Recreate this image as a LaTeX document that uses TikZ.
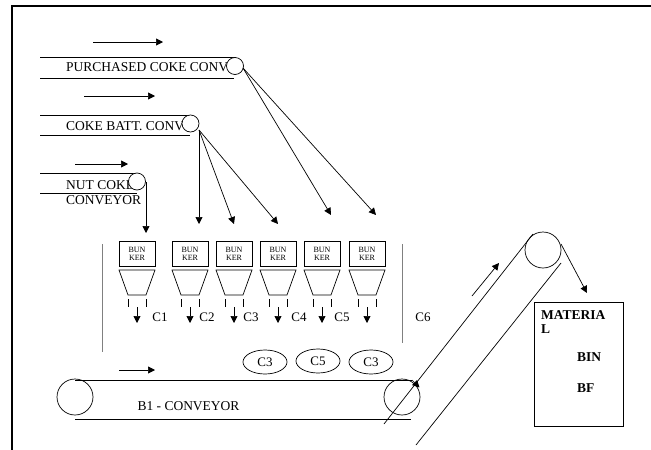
\documentclass[tikz,border=0pt]{standalone}
\usepackage{fontspec}
\setmainfont{Liberation Serif}
\usetikzlibrary{positioning,arrows.meta,calc,shapes.geometric}

\tikzset{
  flow/.style={-{Triangle[length=7pt,width=7pt]}, line width=0.7pt},
  belt/.style={line width=0.7pt},
  pulley/.style={draw, circle, fill=white, inner sep=0pt, line width=0.7pt},
  bunkerbox/.style={draw, minimum width=36pt, minimum height=25pt, inner sep=0pt, align=center, font=\fontsize{8}{8}\selectfont, line width=0.8pt},
  lab/.style={inner sep=0pt, font=\fontsize{13.5}{15}\selectfont, align=left},
  tag/.style={draw, ellipse, minimum width=44pt, minimum height=24pt, inner sep=0pt, font=\fontsize{13}{15}\selectfont, line width=0.7pt},
  boldlab/.style={lab, font=\fontsize{13.5}{14.5}\bfseries\selectfont},
}

\begin{document}
\begin{tikzpicture}[x=1pt,y=-1pt]
    \useasboundingbox (0,0) rectangle (651,450);
    \draw[line width=1.1pt] (12,450) -- (12,6) -- (651,6);

    % belts running in from the left
    \coordinate (pa) at (40,57.5);  \coordinate (pb) at (236,57.5);
    \coordinate (pc) at (40,78);    \coordinate (pd) at (234,78);
    \coordinate (ba) at (40,115);   \coordinate (bb) at (190,115);
    \coordinate (bc) at (40,135.5); \coordinate (bd) at (190,135.5);
    \coordinate (na) at (40,173);   \coordinate (nb) at (137,173);
    \coordinate (nc) at (40,193.5); \coordinate (nd) at (137,193.5);
    \draw[belt] (pa) -- (pb);
    \draw[belt] (pc) -- (pd);
    \draw[belt] (ba) -- (bb);
    \draw[belt] (bc) -- (bd);
    \draw[belt] (na) -- (nb);
    \draw[belt] (nc) -- (nd);

    \node[lab, anchor=west] (purchased) at (66,67.5) {PURCHASED COKE CONV};
    \node[lab, anchor=west] (battery) at (66,126) {COKE BATT. CONV};
    \node[lab, anchor=north west] (nutcoke) at (66,180) {NUT COKE\\CONVEYOR};

    \node[pulley, minimum size=17pt] (ppulley) at (235,66) {};
    \node[pulley, minimum size=17pt] (bpulley) at (190.5,123.5) {};
    \node[pulley, minimum size=17pt] (npulley) at (137,181.5) {};

    % direction of travel
    \foreach \n/\xa/\xb/\y in {p/93/163/42, b/84/155/96, n/75/128/164, c/119/155/370} {
      \coordinate (\n from) at (\xa,\y);
      \coordinate (\n to) at (\xb,\y);
      \draw[flow] (\n from) -- (\n to);
    }

    % chutes into the bunkers
    \coordinate (nout) at (146,182);
    \coordinate (bout) at (199,130);
    \coordinate (pout) at (243,68);
    \coordinate (t1) at (146,233);
    \coordinate (t2) at (199,224);
    \coordinate (t3) at (234,224);
    \coordinate (t4) at (278,224);
    \coordinate (t5) at (331,215);
    \coordinate (t6) at (376,215);
    \draw[flow] (nout) -- (t1);
    \draw[flow] (bout) -- (t2);
    \draw[flow] (bout) -- (t3);
    \draw[flow] (bout) -- (t4);
    \draw[flow] (pout) -- (t5);
    \draw[flow] (pout) -- (t6);

    \foreach \i/\x in {1/137, 2/190, 3/234, 4/278, 5/322, 6/367} {
      \node[bunkerbox] (bunker\i) at (\x,253.5) {BUN\\KER};
      \draw[line width=0.7pt] (\x-18,270) -- (\x+18,270) -- (\x+9,295) -- (\x-9,295) -- cycle;
      \draw[line width=0.6pt] (\x-9,299) -- (\x-9,307) (\x+9,299) -- (\x+9,307);
      \coordinate (drop\i) at (\x,307);
      \coordinate (fall\i) at (\x,323);
      \draw[flow] (drop\i) -- (fall\i);
    }
    \foreach \lab/\lx in {C1/160, C2/207, C3/251, C4/299, C5/342, C6/423} {
      \node[lab, font=\fontsize{13}{15}\selectfont] (lab\lab) at (\lx,317) {\lab};
    }

    \draw[line width=0.9pt, gray] (102,244) -- (102,352);
    \draw[line width=0.9pt, gray] (402,244) -- (402,343);

    % main conveyor
    \node[tag] (tagone) at (265,362) {C3};
    \node[tag] (tagtwo) at (318,361) {C5};
    \node[tag] (tagthree) at (371,362) {C3};

    \node[pulley, fill=none, minimum size=36pt] (left) at (75,397) {};
    \node[pulley, fill=none, minimum size=36pt] (right) at (402,397) {};
    \coordinate (topa) at (75,380);   \coordinate (topb) at (412,380);
    \coordinate (bota) at (75,419.5); \coordinate (botb) at (411,419.5);
    \draw[belt] (topa) -- (topb);
    \draw[belt] (bota) -- (botb);
    \node[lab] (bone) at (188.5,406) {B1 - CONVEYOR};

    % inclined conveyor up to the bin
    \node[pulley, fill=none, minimum size=36pt] (head) at (543,250) {};
    \coordinate (upa) at (384,424);  \coordinate (upb) at (533,234);
    \coordinate (loa) at (416,445);  \coordinate (lob) at (561,263);
    \coordinate (mova) at (472,296); \coordinate (movb) at (499,263);
    \coordinate (tip) at (419.5,387.5);
    \coordinate (dropa) at (561,244); \coordinate (dropb) at (587,293);
    \draw[belt] (upa) -- (upb);
    \draw[belt] (loa) -- (lob);
    \draw[flow] (mova) -- (movb);
    \draw[flow] (topb) -- (tip);
    \draw[flow] (dropa) -- (dropb);

    \node[draw, line width=0.8pt, minimum width=89pt, minimum height=124pt, inner sep=0pt] (bin) at (578.5,364) {};
    \node[boldlab, anchor=north west] (material) at (541,310) {MATERIA\\L};
    \node[boldlab, anchor=west] (bintext) at (577,357) {BIN};
    \node[boldlab, anchor=west] (bf) at (577,388) {BF};
  \end{tikzpicture}
\end{document}
